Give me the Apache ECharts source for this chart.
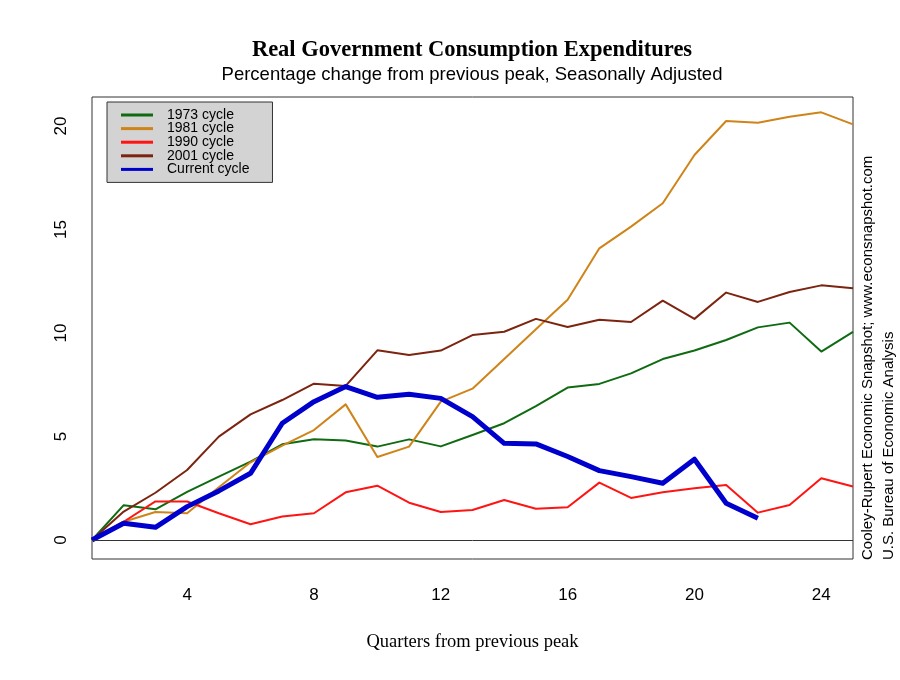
<!DOCTYPE html>
<html>
<head>
<meta charset="utf-8">
<script src="https://cdn.jsdelivr.net/npm/echarts@6/dist/echarts.min.js"></script>
<style>html,body{margin:0;padding:0;background:#fff;}#c{width:900px;height:680px;}</style>
</head>
<body>
<div id="c"></div>
<script>
var quarters = [1,2,3,4,5,6,7,8,9,10,11,12,13,14,15,16,17,18,19,20,21,22,23,24,25];
var cycle1973 = [0,1.68,1.48,2.32,3.06,3.78,4.62,4.86,4.80,4.51,4.86,4.52,5.07,5.64,6.47,7.36,7.54,8.05,8.74,9.15,9.66,10.27,10.50,9.10,10.05];
var cycle1981 = [0,0.88,1.35,1.29,2.55,3.75,4.56,5.31,6.55,4.01,4.51,6.68,7.31,8.74,10.18,11.6,14.09,15.14,16.27,18.60,20.24,20.16,20.45,20.66,20.08];
var cycle1990 = [0,0.88,1.86,1.86,1.29,0.76,1.13,1.29,2.30,2.62,1.80,1.35,1.45,1.93,1.51,1.58,2.77,2.03,2.30,2.50,2.66,1.32,1.69,2.98,2.58];
var cycle2001 = [0,1.37,2.28,3.38,4.99,6.07,6.76,7.55,7.44,9.16,8.94,9.15,9.90,10.06,10.68,10.29,10.64,10.53,11.56,10.68,11.95,11.50,11.98,12.30,12.16];
var cycleCurrent = [0,0.81,0.61,1.61,2.37,3.22,5.64,6.68,7.41,6.89,7.04,6.84,5.96,4.67,4.64,4.03,3.35,3.06,2.74,3.90,1.77,1.05];
var yTicks = [0,5,10,15,20];
var xTickStep = 4;

function pairs(vals){ return vals.map(function(v,i){ return [quarters[i], v]; }); }

var chart = echarts.init(document.getElementById('c'), null, {renderer:'canvas'});
var sans = 'Liberation Sans, Arial, sans-serif';
var serif = 'Liberation Serif, Times New Roman, serif';

function mk(name, vals, color, width, z){
  return {
    name: name, type: 'line', data: pairs(vals), showSymbol: false, symbol: 'none',
    lineStyle: {color: color, width: width, join: 'round'}, itemStyle: {color: color},
    z: z, animation: false
  };
}

var series = [
  mk('1973 cycle', cycle1973, '#0f6b12', 2, 2),
  mk('1981 cycle', cycle1981, '#cf8419', 2, 2),
  mk('1990 cycle', cycle1990, '#ff1414', 2, 2),
  mk('2001 cycle', cycle2001, '#7c2410', 2, 2),
  mk('Current cycle', cycleCurrent, '#0000cc', 5, 3)
];
series[0].markLine = {
  silent: true, symbol: ['none','none'], label: {show:false},
  lineStyle: {color:'#333', width:1, type:'solid'},
  data: [{yAxis: 0}], animation: false
};

chart.setOption({
  backgroundColor: '#ffffff',
  animation: false,
  title: [
    {text: 'Real Government Consumption Expenditures', left: 467, top: 34, textAlign: 'center',
     textStyle: {fontFamily: serif, fontWeight: 'bold', fontSize: 22.5, color: '#000'}},
    {text: 'Percentage change from previous peak, Seasonally Adjusted', left: 467, top: 60, textAlign: 'center',
     textStyle: {fontFamily: sans, fontWeight: 'normal', fontSize: 18.5, color: '#000'}}
  ],
  grid: {left: 92, right: 47, top: 97, bottom: 121, show: true, borderColor: '#333', borderWidth: 1, backgroundColor: 'transparent'},
  legend: {
    orient: 'vertical', left: 107, top: 102,
    backgroundColor: '#d3d3d3', borderColor: '#333', borderWidth: 1, borderRadius: 0,
    padding: [6, 23, 6, 14], itemGap: -0.4, itemWidth: 32, itemHeight: 3,
    icon: 'rect',
    textStyle: {fontFamily: sans, fontSize: 14, color: '#000', padding: [0,0,0,9]},
    data: ['1973 cycle','1981 cycle','1990 cycle','2001 cycle','Current cycle']
  },
  xAxis: {
    type: 'value', min: 1, max: 25, interval: 1,
    axisLine: {show: false}, axisTick: {show: false}, splitLine: {show: false},
    axisLabel: {
      margin: 28, fontFamily: sans, fontSize: 17, color: '#000',
      formatter: function(v){ return (v % xTickStep === 0) ? String(v) : ''; }
    },
    name: 'Quarters from previous peak', nameLocation: 'middle', nameGap: 74,
    nameTextStyle: {fontFamily: serif, fontSize: 18.5, color: '#000'}
  },
  yAxis: {
    type: 'value', min: -0.92, max: 21.4,
    axisLine: {show: false}, axisTick: {show: false}, splitLine: {show: false},
    axisLabel: {
      customValues: yTicks, rotate: 90, margin: 22,
      fontFamily: sans, fontSize: 17, color: '#000'
    }
  },
  graphic: [
    {type: 'text', x: 868, y: 560, rotation: Math.PI/2,
     style: {text: 'Cooley-Rupert Economic Snapshot; www.econsnapshot.com', fill: '#000',
             font: '15px Liberation Sans, Arial, sans-serif', textAlign: 'left', textVerticalAlign: 'middle'}},
    {type: 'text', x: 889, y: 560, rotation: Math.PI/2,
     style: {text: 'U.S. Bureau of Economic Analysis', fill: '#000',
             font: '15px Liberation Sans, Arial, sans-serif', textAlign: 'left', textVerticalAlign: 'middle'}}
  ],
  series: series
});
</script>
</body>
</html>
